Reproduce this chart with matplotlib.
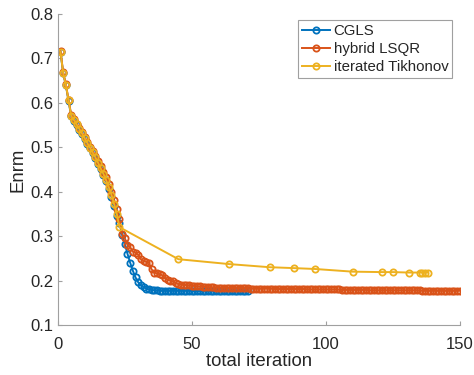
import matplotlib
matplotlib.use("Agg")
import matplotlib.pyplot as plt

plt.rcParams['font.family'] = ['Liberation Sans', 'DejaVu Sans']

# CGLS, iterations 1..71
cgls_x = list(range(1, 72))
cgls_y = [0.714, 0.666, 0.639, 0.604, 0.569, 0.559, 0.549, 0.539, 0.529, 0.518,
          0.507, 0.497, 0.486, 0.475, 0.463, 0.450, 0.437, 0.423, 0.407, 0.389,
          0.368, 0.345, 0.330, 0.302, 0.282, 0.260, 0.240, 0.222, 0.207, 0.196,
          0.189, 0.185, 0.182, 0.180, 0.179, 0.178, 0.178, 0.177, 0.177, 0.177,
          0.177, 0.177, 0.177, 0.177, 0.177, 0.177, 0.177, 0.177, 0.177, 0.177,
          0.176, 0.176, 0.176, 0.176, 0.176, 0.176, 0.176, 0.176, 0.176, 0.176,
          0.176, 0.176, 0.176, 0.176, 0.176, 0.176, 0.176, 0.176, 0.176, 0.176,
          0.176]

# hybrid LSQR, iterations 1..150
lsqr_x = list(range(1, 151))
lsqr_y = [0.716, 0.668, 0.641, 0.606, 0.573, 0.563, 0.553, 0.543, 0.533, 0.522,
          0.511, 0.501, 0.491, 0.480, 0.469, 0.457, 0.445, 0.432, 0.417, 0.400,
          0.381, 0.360, 0.338, 0.305, 0.295, 0.280, 0.275, 0.265, 0.262, 0.258,
          0.248, 0.244, 0.242, 0.240, 0.225, 0.218, 0.216, 0.214, 0.212, 0.205,
          0.202, 0.200, 0.198, 0.194, 0.192, 0.191, 0.190, 0.190, 0.189, 0.188,
          0.188, 0.187, 0.187, 0.186, 0.186, 0.185, 0.185, 0.185, 0.184, 0.184,
          0.184, 0.184, 0.184, 0.183, 0.183, 0.183, 0.183, 0.183, 0.183, 0.183,
          0.183, 0.182, 0.182, 0.182, 0.182, 0.182, 0.182, 0.182, 0.182, 0.182,
          0.181, 0.181, 0.181, 0.181, 0.181, 0.181, 0.181, 0.181, 0.181, 0.181,
          0.181, 0.181, 0.180, 0.180, 0.180, 0.180, 0.180, 0.180, 0.180, 0.180,
          0.180, 0.180, 0.180, 0.180, 0.180, 0.179, 0.179, 0.179, 0.179, 0.179,
          0.179, 0.179, 0.179, 0.179, 0.179, 0.178, 0.178, 0.178, 0.178, 0.178,
          0.178, 0.178, 0.178, 0.178, 0.178, 0.178, 0.178, 0.178, 0.178, 0.178,
          0.178, 0.178, 0.178, 0.178, 0.178, 0.177, 0.177, 0.177, 0.177, 0.177,
          0.177, 0.177, 0.177, 0.177, 0.177, 0.177, 0.177, 0.177, 0.177, 0.177]

# iterated Tikhonov
tik_x = list(range(1, 24)) + [45, 64, 79, 88, 96, 110, 121, 125, 131, 135, 136, 137, 138]
tik_y = [0.714, 0.666, 0.640, 0.605, 0.570, 0.561, 0.551, 0.541, 0.531, 0.520,
         0.509, 0.499, 0.488, 0.477, 0.465, 0.452, 0.440, 0.426, 0.410, 0.393,
         0.372, 0.350, 0.320,
         0.248, 0.237, 0.230, 0.228, 0.226, 0.220, 0.219, 0.219, 0.218, 0.218,
         0.218, 0.218, 0.218]

series = [("CGLS", cgls_x, cgls_y, "#0072BD"),
          ("hybrid LSQR", lsqr_x, lsqr_y, "#D95319"),
          ("iterated Tikhonov", tik_x, tik_y, "#EDB120")]

fig = plt.figure(figsize=(4.74, 3.75), dpi=100)
ax = fig.add_axes([0.122, 0.1333, 0.848, 0.83])

for name, xs, ys, col in series:
    ax.plot(xs, ys, '-o', color=col, lw=1.4, ms=4.5, mfc='none', mew=1.3, label=name)

ax.set_xlim(0, 150)
ax.set_ylim(0.1, 0.8)
ax.set_xticks([0, 50, 100, 150])
ax.set_yticks([0.1, 0.2, 0.3, 0.4, 0.5, 0.6, 0.7, 0.8])
ax.set_yticklabels(['0.1', '0.2', '0.3', '0.4', '0.5', '0.6', '0.7', '0.8'])
ax.spines['top'].set_visible(False)
ax.spines['right'].set_visible(False)
for s in ['left', 'bottom']:
    ax.spines[s].set_color('#a0a0a0')
    ax.spines[s].set_linewidth(0.8)
ax.tick_params(direction='in', length=3, width=0.8, color='#a0a0a0',
               labelsize=12, labelcolor='#262626')
ax.tick_params(axis='x', pad=8.5)
ax.tick_params(axis='y', pad=3)
ax.set_xlabel('total iteration', fontsize=13.4, color='#262626', labelpad=1)
ax.set_ylabel('Enrm', fontsize=13.4, color='#262626', labelpad=3)

leg = ax.legend(loc='upper right', bbox_to_anchor=(452 / 474, 1 - 20 / 375),
                bbox_transform=fig.transFigure, borderaxespad=0, fancybox=False,
                framealpha=1, edgecolor='#a0a0a0', fontsize=10.8, handlelength=1.85,
                handletextpad=0.25, labelspacing=0.28, borderpad=0.25)
leg.get_frame().set_linewidth(0.8)
for t in leg.get_texts():
    t.set_color('#262626')

fig.savefig("out.png", dpi=100)
